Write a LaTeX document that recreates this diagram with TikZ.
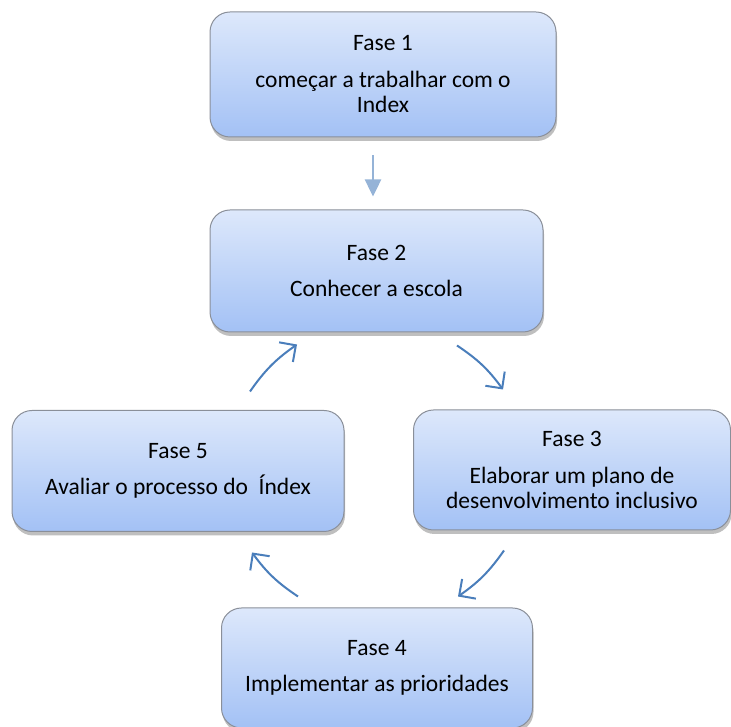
\documentclass[tikz,border=0pt]{standalone}
\usepackage{fontspec}
\setmainfont{Carlito}
\usepackage{tikz}
\usetikzlibrary{arrows.meta,shadows}

\definecolor{fasetop}{HTML}{DDE8FB}
\definecolor{fasebot}{HTML}{A3C1F5}
\definecolor{faseline}{HTML}{8A8F99}
\definecolor{ciclocor}{HTML}{4A7EBB}
\definecolor{descecor}{HTML}{95B3D7}

\tikzset{
	fase/.style = {draw=faseline, line width=1pt, rounded corners=20pt,
		top color=fasetop, bottom color=fasebot, align=center,
		font=\fontsize{23.5}{25.5}\selectfont,
		drop shadow={shadow xshift=1pt, shadow yshift=-4pt, opacity=0.25, fill=black}},
	ciclo/.style = {ciclocor, line width=2pt,
		-{Straight Barb[length=12pt, width=24pt, line width=2pt]}},
	desce/.style = {descecor, line width=2.5pt,
		-{Triangle[length=17pt, width=16pt]}}
}

\begin{document}
\begin{tikzpicture}[x = 1pt, y = 1pt]
	\useasboundingbox (0,0) rectangle (731,727);
	
	\node[fase, minimum width=346pt, minimum height=125pt] (fase1) at (383,652.5)
		{Fase 1\\[11pt]começar a trabalhar com o\\Index};
	\node[fase, minimum width=333pt, minimum height=122pt] (fase2) at (376.5,456)
		{Fase 2\\[11pt]Conhecer a escola};
	\node[fase, minimum width=317pt, minimum height=120pt] (fase3) at (572,257)
		{Fase 3\\[11pt]Elaborar um plano de\\desenvolvimento inclusivo};
	\node[fase, minimum width=311pt, minimum height=120pt] (fase4) at (377,59)
		{Fase 4\\[11pt]Implementar as prioridades};
	\node[fase, minimum width=332pt, minimum height=121pt] (fase5) at (178,256)
		{Fase 5\\[11pt]Avaliar o processo do\ \ Índex};
	
	\draw[desce] ([xshift=-10pt, yshift=-18pt]fase1.south) -- ([xshift=-3.5pt, yshift=13pt]fase2.north);
	
	% ciclo
	\draw[ciclo] ([shift={(80.5,-13)}]fase2.south) to[bend left=10] ([shift={(-69,20)}]fase3.north);
	\draw[ciclo] ([shift={(-68,-20)}]fase3.south) to[bend left=10] ([shift={(81,11)}]fase4.north);
	\draw[ciclo] ([shift={(-79,11)}]fase4.north) to[bend left=10] ([shift={(74,-20.5)}]fase5.south);
	\draw[ciclo] ([shift={(72,18.5)}]fase5.north) to[bend left=10] ([shift={(-79.5,-12)}]fase2.south);
\end{tikzpicture}
\end{document}
